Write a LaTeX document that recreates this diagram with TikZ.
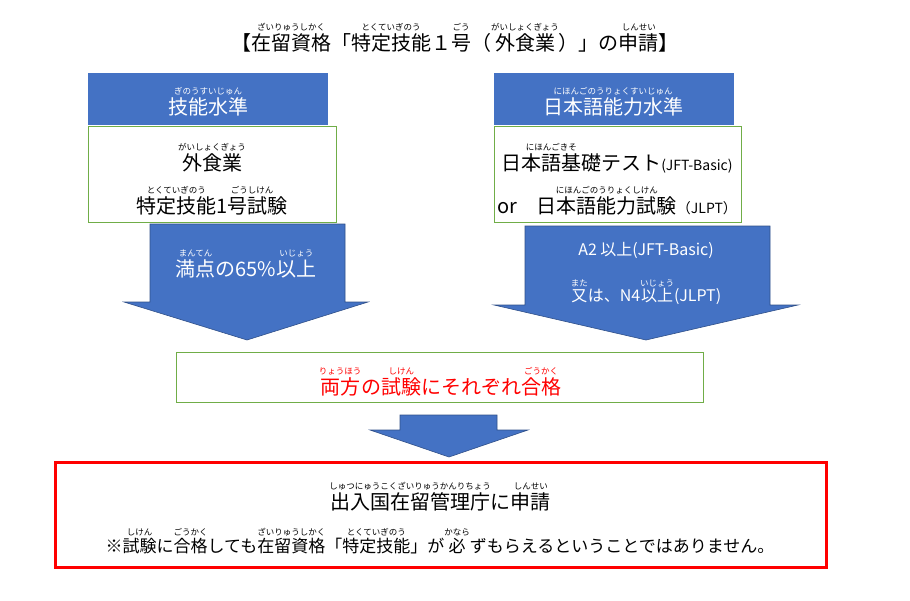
\documentclass[tikz,border=0pt]{standalone}
\usepackage{fontspec}
\setmainfont{Noto Sans CJK JP}
\definecolor{bl}{HTML}{4472C4}
\definecolor{gr}{HTML}{70AD47}
\newcommand\rb[2]{\begin{tabular}[b]{@{}c@{}}{\fontsize{8.5}{8.5}\selectfont #2}\\[-4pt]#1\end{tabular}}
\begin{document}
\begin{tikzpicture}[x=1pt,y=-1pt,
 hdr/.style={draw=bl,fill=bl,text=white,line width=1pt},
 gbox/.style={draw=gr,fill=white,line width=1pt},
 txt/.style={font=\fontsize{20}{24}\selectfont,align=center,inner sep=0pt},
 arr/.style={fill=bl,draw=bl!70!black,line width=0.6pt}]
\useasboundingbox (0,0) rectangle (910,600);
\node[txt] (title) at (455,36) {【\rb{在留資格}{ざいりゅうしかく}「\rb{特定技能}{とくていぎのう}１\rb{号}{ごう}（\rb{外食業}{がいしょくぎょう}）」の\rb{申請}{しんせい}】};
% left
\draw[hdr] (88,73) rectangle (327,124);
\node[txt,text=white] (lh) at (208,100) {\rb{技能水準}{ぎのうすいじゅん}};
\draw[gbox] (88,126) rectangle (336,222);
\node[txt] (l1) at (212,156) {\rb{外食業}{がいしょくぎょう}};
\node[txt] (l2) at (212,199) {\rb{特定技能}{とくていぎのう}\rb{1号試験}{ごうしけん}};
% right
\draw[hdr] (494,73) rectangle (733,124);
\node[txt,text=white] (rh) at (613,100) {\rb{日本語能力水準}{にほんごのうりょくすいじゅん}};
\draw[gbox] (494,126) rectangle (741,222);
\node[txt] (r1) at (617,156) {\rb{日本語基礎}{にほんごきそ}テスト{\fontsize{14}{16}\selectfont (JFT-Basic)}};
\node[txt] (r2) at (617,199) {or\quad \rb{日本語能力試験}{にほんごのうりょくしけん}{\fontsize{14}{16}\selectfont （JLPT）}};
% arrows
\draw[arr] (150,224) -- (345,224) -- (345,302) -- (368,302) -- (247,340) -- (124,302) -- (150,302) -- cycle;
\node[txt,text=white] (la) at (246,262) {\rb{満点}{まんてん}の65\%\rb{以上}{いじょう}};
\draw[arr] (525,226) -- (770,226) -- (770,305) -- (798,305) -- (646,340) -- (494,305) -- (525,305) -- cycle;
\node[txt,text=white,font=\fontsize{16}{19}\selectfont] (ra1) at (646,250) {A2 以上(JFT-Basic)};
\node[txt,text=white,font=\fontsize{16}{19}\selectfont] (ra2) at (646,290) {\rb{又}{また}は、N4\rb{以上}{いじょう}(JLPT)};
\draw[gbox] (176,352) rectangle (703,402);
\node[txt,text=red] (mid) at (440,380) {\rb{両方}{りょうほう}の\rb{試験}{しけん}にそれぞれ\rb{合格}{ごうかく}};
\draw[arr] (400,415) -- (497,415) -- (497,430) -- (528,430) -- (449,457) -- (370,430) -- (400,430) -- cycle;
\draw[red,line width=3pt] (55,462) rectangle (826,567);
\node[txt] (f1) at (440,495) {\rb{出入国在留管理庁}{しゅつにゅうこくざいりゅうかんりちょう}に\rb{申請}{しんせい}};
\node[txt,font=\fontsize{17}{20}\selectfont] (f2) at (440,540) {※\rb{試験}{しけん}に\rb{合格}{ごうかく}しても\rb{在留資格}{ざいりゅうしかく}「\rb{特定技能}{とくていぎのう}」が\rb{必}{かなら}ずもらえるということではありません。};
\end{tikzpicture}
\end{document}
